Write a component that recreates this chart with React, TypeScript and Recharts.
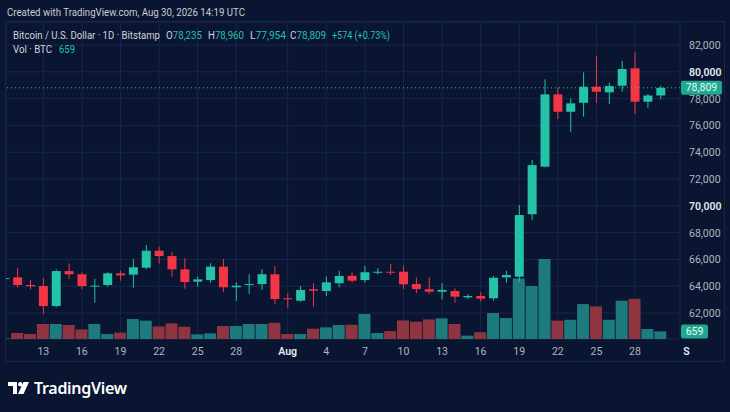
import React from 'react';
import {
  ComposedChart,
  Bar,
  Cell,
  XAxis,
  YAxis,
  CartesianGrid,
  ReferenceLine,
} from 'recharts';

// Daily BTC/USD (Bitstamp), Jul 10 - Aug 30
const days = [
  'Jul 10', 'Jul 11', 'Jul 12', 'Jul 13', 'Jul 14', 'Jul 15', 'Jul 16', 'Jul 17', 'Jul 18', 'Jul 19',
  'Jul 20', 'Jul 21', 'Jul 22', 'Jul 23', 'Jul 24', 'Jul 25', 'Jul 26', 'Jul 27', 'Jul 28', 'Jul 29',
  'Jul 30', 'Jul 31', 'Aug 1', 'Aug 2', 'Aug 3', 'Aug 4', 'Aug 5', 'Aug 6', 'Aug 7', 'Aug 8',
  'Aug 9', 'Aug 10', 'Aug 11', 'Aug 12', 'Aug 13', 'Aug 14', 'Aug 15', 'Aug 16', 'Aug 17', 'Aug 18',
  'Aug 19', 'Aug 20', 'Aug 21', 'Aug 22', 'Aug 23', 'Aug 24', 'Aug 25', 'Aug 26', 'Aug 27', 'Aug 28',
  'Aug 29', 'Aug 30',
];
const opens = [
  64580, 64660, 64090, 64015, 62520, 65130, 64890, 63970, 64090, 64960,
  64860, 65380, 66650, 66250, 65260, 64340, 64460, 65460, 63920, 64090,
  64160, 64890, 63100, 62920, 63770, 63640, 64220, 64780, 64460, 65010,
  65080, 65080, 64160, 63770, 63590, 63640, 63170, 63270, 63100, 64660,
  64710, 69370, 72920, 78320, 77020, 77690, 78890, 78470, 78960, 80260,
  77770, 78235,
];
const highs = [
  64640, 65340, 64460, 64590, 65260, 65710, 65040, 64540, 65040, 65160,
  66030, 67070, 66950, 66530, 66080, 64710, 65710, 66030, 64290, 64890,
  65260, 65510, 63470, 64010, 64220, 64710, 65160, 65040, 65510, 65340,
  65660, 65530, 64660, 64660, 64220, 63840, 63400, 63540, 64760, 65160,
  70060, 73420, 79440, 78840, 78020, 79960, 81200, 79190, 80810, 81460,
  78340, 78960,
];
const lows = [
  64560, 63920, 63770, 61930, 62420, 64540, 63770, 62770, 63960, 64410,
  63890, 65260, 65710, 64710, 63810, 63960, 64260, 63590, 62900, 63420,
  63720, 62650, 62400, 62840, 62470, 63270, 63920, 64260, 64260, 64890,
  64840, 63790, 63470, 63420, 63020, 62770, 63040, 62840, 62920, 64260,
  64340, 68940, 72870, 76480, 75530, 76650, 77690, 77600, 78510, 76850,
  77320, 77954,
];
const closes = [
  64610, 64090, 64000, 62520, 65130, 64890, 64010, 64040, 64960, 64810,
  65410, 66650, 66250, 65260, 64310, 64510, 65460, 63920, 64040, 64160,
  64890, 63040, 63020, 63720, 63660, 64290, 64760, 64410, 65040, 65080,
  65010, 64140, 63790, 63590, 63720, 63220, 63270, 63070, 64630, 64840,
  69310, 73040, 78320, 77020, 77650, 78890, 78510, 78940, 80210, 77770,
  78235, 78809,
];
const volumes = [
  40, 520, 430, 1300, 1300, 1210, 830, 1300, 430, 550,
  1730, 1590, 1090, 1350, 1070, 400, 490, 1130, 1130, 1300,
  1300, 1410, 430, 430, 890, 1010, 1210, 1240, 2170, 520,
  690, 1610, 1500, 1700, 1790, 1300, 290, 590, 2250, 1820,
  5250, 4600, 6940, 1590, 1670, 3030, 2830, 1670, 3320, 3490,
  870, 659,
];

const timeTicks = [3, 6, 9, 12, 15, 18, 22, 25, 28, 31, 34, 37, 40, 43, 46, 49, 53];
const timeLabels = ['13', '16', '19', '22', '25', '28', 'Aug', '4', '7', '10', '13', '16', '19', '22', '25', '28', 'S'];
const gridTicks = timeTicks.filter((t) => t <= 52);
const priceTicks = [62000, 64000, 66000, 68000, 70000, 72000, 74000, 76000, 78000, 80000, 82000];

const lastPrice = 78809;
const lastVolume = 659;

const BG = '#0a1531';
const GRID = '#17264b';
const UP = '#22c3a6';
const DOWN = '#f23645';
const UP_VOL = '#1d7b7e';
const DOWN_VOL = '#8e3541';
const TEXT = '#b2b5be';
const LIGHT = '#d1d4dc';
const FONT = 'Roboto, "Noto Sans", sans-serif';
const SANS = '"Noto Sans", Roboto, sans-serif';
const X_DOMAIN = [0.1, 52.5];

const data = days.map((d, i) => ({
  i,
  day: d,
  open: opens[i],
  high: highs[i],
  low: lows[i],
  close: closes[i],
  range: [lows[i], highs[i]],
  vol: volumes[i],
}));

function Candle(props: any) {
  const { x, y, width, height, payload } = props;
  const { open, close, high, low } = payload;
  const color = close >= open ? UP : DOWN;
  const top0 = Math.min(y, y + height);
  const h = Math.abs(height);
  const k = high > low ? h / (high - low) : 0;
  const yOf = (v: number) => top0 + (high - v) * k;
  const bTop = yOf(Math.max(open, close));
  const bBot = yOf(Math.min(open, close));
  const cx = x + width / 2;
  return (
    <g>
      <line x1={cx} x2={cx} y1={top0} y2={top0 + h} stroke={color} strokeWidth={1} />
      <rect x={x} y={bTop} width={width} height={Math.max(bBot - bTop, 1)} fill={color} />
    </g>
  );
}

function PriceTick(props: any) {
  const { x, y, payload } = props;
  const strong = payload.value === 80000 || payload.value === 70000;
  return (
    <text
      x={x + 1}
      y={y}
      dy={4}
      textAnchor="start"
      fontSize={10.5}
      fontFamily={FONT}
      fontWeight={strong ? 600 : 400}
      fill={strong ? '#e6e8ee' : TEXT}
    >
      {payload.value.toLocaleString('en-US')}
    </text>
  );
}

function TimeTick(props: any) {
  const { x, y, payload } = props;
  const idx = timeTicks.indexOf(payload.value);
  const label = timeLabels[idx];
  const strong = label === 'Aug' || label === 'S';
  return (
    <text
      x={x}
      y={y}
      dy={8}
      textAnchor="middle"
      fontSize={10.5}
      fontFamily={FONT}
      fontWeight={strong ? 600 : 400}
      fill={strong ? '#e6e8ee' : TEXT}
    >
      {label}
    </text>
  );
}

function Tag({ viewBox, text, w }: any) {
  if (!viewBox) return null;
  const x = viewBox.x + viewBox.width + 1;
  const y = viewBox.y;
  return (
    <g>
      <rect x={x} y={y - 7} width={w} height={14} rx={2} fill="#1fa88f" />
      <text x={x + w / 2} y={y} dy={3.5} textAnchor="middle" fontSize={10.5} fontFamily={FONT} fill="#e8fbf6">
        {text}
      </text>
    </g>
  );
}

function Logo() {
  return (
    <div style={{ position: 'absolute', left: 8, top: 377, display: 'flex', alignItems: 'center', gap: 4 }}>
      <svg width={22} height={14} viewBox="0 0 22 14">
        <rect x={0} y={1} width={9} height={4} fill="#ffffff" />
        <rect x={5} y={1} width={4} height={12} fill="#ffffff" />
        <circle cx={12.3} cy={3.2} r={2.2} fill="#ffffff" />
        <polygon points="15.5,1 21,1 15.5,13 10,13" fill="#ffffff" />
      </svg>
      <span style={{ color: '#ffffff', fontFamily: SANS, fontSize: 16, fontWeight: 600, letterSpacing: -0.3 }}>
        TradingView
      </span>
    </div>
  );
}

const ohlc = [
  { k: 'O', v: '78,235', x: 166 },
  { k: 'H', v: '78,960', x: 208 },
  { k: 'L', v: '77,954', x: 250 },
  { k: 'C', v: '78,809', x: 290 },
];

function Header() {
  return (
    <svg width={730} height={60} style={{ position: 'absolute', left: 0, top: 0 }} fontFamily={FONT} fontSize={11}>
      <text x={7} y={16} fill="#c9ccd4" textLength={238} lengthAdjust="spacingAndGlyphs">
        Created with TradingView.com, Aug 30, 2026 14:19 UTC
      </text>
      <text x={13} y={39} fill={LIGHT} textLength={147} lengthAdjust="spacingAndGlyphs">
        Bitcoin / U.S. Dollar · 1D · Bitstamp
      </text>
      {ohlc.map((o) => (
        <text key={o.k} x={o.x} y={39} textLength={36} lengthAdjust="spacingAndGlyphs">
          <tspan fill={LIGHT}>{o.k}</tspan>
          <tspan fill={UP}>{o.v}</tspan>
        </text>
      ))}
      <text x={332} y={39} fill={UP} textLength={58} lengthAdjust="spacingAndGlyphs">
        +574 (+0.73%)
      </text>
      <text x={13} y={53} fill={LIGHT} textLength={39} lengthAdjust="spacingAndGlyphs">
        Vol · BTC
      </text>
      <text x={59} y={53} fill={UP} textLength={16} lengthAdjust="spacingAndGlyphs">
        659
      </text>
    </svg>
  );
}

export default function App() {
  return (
    <div
      style={{
        position: 'fixed',
        left: 0,
        top: 0,
        width: 730,
        height: 412,
        background: BG,
        overflow: 'hidden',
      }}
    >
      <div
        style={{
          position: 'absolute',
          left: 5,
          top: 21,
          width: 720,
          height: 341,
          border: `1px solid ${GRID}`,
          boxSizing: 'border-box',
        }}
      />
      <div style={{ position: 'absolute', left: 0, top: 0 }}>
        <ComposedChart width={730} height={412} data={data} margin={{ top: 22, right: 0, bottom: 50, left: 6 }}>
          <XAxis
            xAxisId="p"
            dataKey="i"
            type="number"
            domain={X_DOMAIN}
            allowDataOverflow
            ticks={timeTicks}
            interval={0}
            tick={<TimeTick />}
            axisLine={false}
            tickLine={false}
            height={23}
          />
          <XAxis
            xAxisId="g"
            orientation="top"
            dataKey="i"
            type="number"
            domain={X_DOMAIN}
            allowDataOverflow
            ticks={gridTicks}
            hide
          />
          <XAxis xAxisId="v" orientation="top" dataKey="i" type="number" domain={X_DOMAIN} allowDataOverflow hide />
          <CartesianGrid xAxisId="g" yAxisId="p" stroke={GRID} strokeWidth={1} />
          <YAxis
            yAxisId="p"
            orientation="right"
            domain={[60060, 83720]}
            allowDataOverflow
            ticks={priceTicks}
            interval={0}
            tick={<PriceTick />}
            axisLine={false}
            tickLine={false}
            width={50}
          />
          <YAxis yAxisId="v" domain={[0, 27500]} allowDataOverflow hide />
          <Bar xAxisId="v" yAxisId="v" dataKey="vol" barSize={12} isAnimationActive={false}>
            {data.map((d) => (
              <Cell key={d.i} fill={d.close >= d.open ? UP_VOL : DOWN_VOL} />
            ))}
          </Bar>
          <Bar
            xAxisId="p"
            yAxisId="p"
            dataKey="range"
            barSize={9}
            shape={<Candle />}
            isAnimationActive={false}
          />
          <ReferenceLine
            xAxisId="p"
            yAxisId="p"
            y={lastPrice}
            stroke={UP}
            strokeDasharray="1 3"
            label={<Tag text={lastPrice.toLocaleString('en-US')} w={41} />}
          />
          <ReferenceLine
            xAxisId="v"
            yAxisId="v"
            y={lastVolume}
            stroke="none"
            strokeOpacity={0}
            label={<Tag text={String(lastVolume)} w={27} />}
          />
        </ComposedChart>
      </div>
      <Header />
      <Logo />
    </div>
  );
}
